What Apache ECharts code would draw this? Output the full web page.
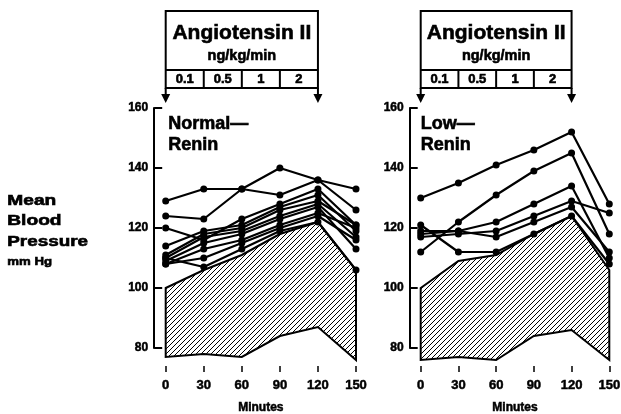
<!DOCTYPE html>
<html><head><meta charset="utf-8">
<script src="https://cdn.jsdelivr.net/npm/echarts@6/dist/echarts.min.js"></script>
<style>html,body{margin:0;padding:0;background:#fff}#c{width:621px;height:414px}</style>
</head><body><div id="c"></div>
<script>
// ---- data ----
const minutes = [0, 30, 60, 90, 120, 150];
const yTicks = [80, 100, 120, 140, 160];
const doses = ['0.1', '0.5', '1', '2'];
const doseEdges = [0, 30, 60, 90, 120];
const normalLines = [
  [129, 133, 133, 131, 136, 133],
  [124, 123, 133, 140, 136, 126],
  [120, 116, 123, 128, 133, 121],
  [114, 119, 121, 127, 131, 119],
  [111, 118, 120, 126, 129, 121],
  [110, 117, 119, 124, 128, 117],
  [109, 115, 118, 123, 127, 113],
  [108, 113, 116, 121, 125, 120],
  [108, 110, 115, 120, 124, 116],
  [110, 107, 113, 119, 122, 106]
];
const normalBandUpper = [100, 106, 111, 118, 122, 106];
const normalBandLower = [77, 78, 77, 84, 87, 76];
const lowLines = [
  [130, 135, 141, 146, 152, 128],
  [112, 122, 131, 139, 145, 118],
  [119, 119, 122, 128, 134, 110],
  [117, 118, 119, 124, 129, 125],
  [118, 119, 117, 122, 127, 112],
  [121, 112, 112, 118, 124, 108]
];
const lowBandUpper = [100, 109, 111, 118, 124, 106];
const lowBandLower = [76, 77, 76, 84, 86, 76];
const panelTitles = [['Normal—', 'Renin'], ['Low—', 'Renin']];
const boxTitle = 'Angiotensin II';
const boxUnit = 'ng/kg/min';
const yLabelLines = ['Mean', 'Blood', 'Pressure'];
const yUnit = 'mm Hg';
const xName = 'Minutes';

// ---- rendering ----
const FONT = '"Liberation Sans", Arial, sans-serif';
const chart = echarts.init(document.getElementById('c'), null, {renderer: 'canvas'});

function hatchCanvas() {
  const c = document.createElement('canvas');
  c.width = 5; c.height = 5;
  const g = c.getContext('2d');
  g.strokeStyle = '#000'; g.lineWidth = 1;
  g.beginPath();
  g.moveTo(0, 5); g.lineTo(5, 0);
  g.moveTo(-1, 1); g.lineTo(1, -1);
  g.moveTo(4, 6); g.lineTo(6, 4);
  g.stroke();
  return c;
}
const hatch = {image: hatchCanvas(), repeat: 'repeat'};

function bandSeries(idx, upper, lower) {
  return {
    type: 'custom', xAxisIndex: idx, yAxisIndex: idx, clip: false, silent: true, z: 1,
    data: [[75, 120]],
    renderItem: (params, api) => {
      const pts = [];
      minutes.forEach((m, i) => pts.push(api.coord([m, upper[i]])));
      for (let i = minutes.length - 1; i >= 0; i--) pts.push(api.coord([minutes[i], lower[i]]));
      return {type: 'polygon', shape: {points: pts},
        style: {fill: hatch, stroke: '#000', lineWidth: 2, lineJoin: 'miter'}};
    }
  };
}
function lineSeries(idx, lines) {
  return lines.map(v => ({
    type: 'line', xAxisIndex: idx, yAxisIndex: idx, clip: false, z: 3,
    data: minutes.map((m, i) => [m, v[i]]),
    symbol: 'circle', symbolSize: 7, showSymbol: true,
    lineStyle: {color: '#000', width: 2.2},
    itemStyle: {color: '#000'}, emphasis: {disabled: true}
  }));
}
const heavy = {textBorderColor: '#000', textBorderWidth: 0.5};
function xAxis(idx) {
  return {
    gridIndex: idx, type: 'value', min: 0, max: 150, interval: 30, offset: 18,
    axisLine: {show: false, onZero: false},
    axisTick: {show: true, length: 6, lineStyle: {color: '#000', width: 1.5}},
    axisLabel: Object.assign({color: '#000', fontFamily: FONT, fontWeight: 'bold', fontSize: 13, margin: 13}, heavy),
    splitLine: {show: false},
    name: xName, nameLocation: 'middle', nameGap: 36,
    nameTextStyle: Object.assign({color: '#000', fontFamily: FONT, fontWeight: 'bold', fontSize: 12}, heavy)
  };
}
function yAxis(idx, off) {
  return {
    gridIndex: idx, type: 'value', min: yTicks[0], max: yTicks[yTicks.length - 1], interval: 20, offset: off,
    axisLine: {show: true, onZero: false, lineStyle: {color: '#000', width: 2}},
    axisTick: {show: true, inside: true, length: 8, lineStyle: {color: '#000', width: 2}},
    axisLabel: Object.assign({color: '#000', fontFamily: FONT, fontWeight: 'bold', fontSize: 12, margin: 6}, heavy),
    splitLine: {show: false}
  };
}

chart.setOption({
  animation: false,
  backgroundColor: '#fff',
  grid: [
    {left: 165.7, top: 108, width: 190.3, height: 240, outerBoundsMode: 'none'},
    {left: 420.7, top: 108, width: 188.6, height: 240, outerBoundsMode: 'none'}
  ],
  xAxis: [xAxis(0), xAxis(1)],
  yAxis: [yAxis(0, 11.5), yAxis(1, 11)],
  series: [
    bandSeries(0, normalBandUpper, normalBandLower),
    bandSeries(1, lowBandUpper, lowBandLower),
    ...lineSeries(0, normalLines),
    ...lineSeries(1, lowLines)
  ]
});

function txt(x, y, text, size, align, sx) {
  return {type: 'text', x: x, y: y, scaleX: sx || 1, silent: true, z: 10,
    style: {text: text, x: 0, y: 0, fill: '#000', font: 'bold ' + size + 'px ' + FONT,
      stroke: '#000', lineWidth: 0.6,
      textAlign: align || 'left', textVerticalAlign: 'middle'}};
}
const graphics = [];
[0, 1].forEach(gi => {
  const px = m => chart.convertToPixel({xAxisIndex: gi}, m);
  const x0 = px(doseEdges[0]), x1 = px(doseEdges[doseEdges.length - 1]);
  const top = 11, mid = 70, bot = 88, tip = 103;
  const st = {stroke: '#000', lineWidth: 2, fill: null};
  graphics.push({type: 'rect', shape: {x: x0, y: top, width: x1 - x0, height: bot - top}, style: st, silent: true});
  graphics.push({type: 'line', shape: {x1: x0, y1: mid, x2: x1, y2: mid}, style: st, silent: true});
  for (let k = 1; k < doseEdges.length - 1; k++) {
    const xx = px(doseEdges[k]);
    graphics.push({type: 'line', shape: {x1: xx, y1: mid, x2: xx, y2: bot}, style: st, silent: true});
  }
  [x0, x1].forEach(xa => {
    graphics.push({type: 'line', shape: {x1: xa, y1: bot, x2: xa, y2: tip - 6}, style: st, silent: true});
    graphics.push({type: 'polygon', shape: {points: [[xa - 4.5, tip - 9], [xa + 4.5, tip - 9], [xa, tip]]},
      style: {fill: '#000'}, silent: true});
  });
  const cx = (x0 + x1) / 2;
  graphics.push(txt(cx, 33, boxTitle, 21, 'center'));
  graphics.push(txt(cx, 56, boxUnit, 14.5, 'center'));
  doses.forEach((d, k) => {
    graphics.push(txt((px(doseEdges[k]) + px(doseEdges[k + 1])) / 2, 79.5, d, 13, 'center'));
  });
  const tx = gi === 0 ? x0 + 2.6 : x0;
  graphics.push(txt(tx, 124, panelTitles[gi][0], 18));
  graphics.push(txt(tx, 145, panelTitles[gi][1], 18));
});
graphics.push(txt(7.3, 201, yLabelLines[0], 14.5, 'left', 1.32));
graphics.push(txt(7.3, 221, yLabelLines[1], 14.5, 'left', 1.32));
graphics.push(txt(7.3, 241.5, yLabelLines[2], 14.5, 'left', 1.3));
graphics.push(txt(7.3, 261.5, yUnit, 11, 'left', 1.2));
chart.setOption({graphic: graphics});
</script>
</body></html>
